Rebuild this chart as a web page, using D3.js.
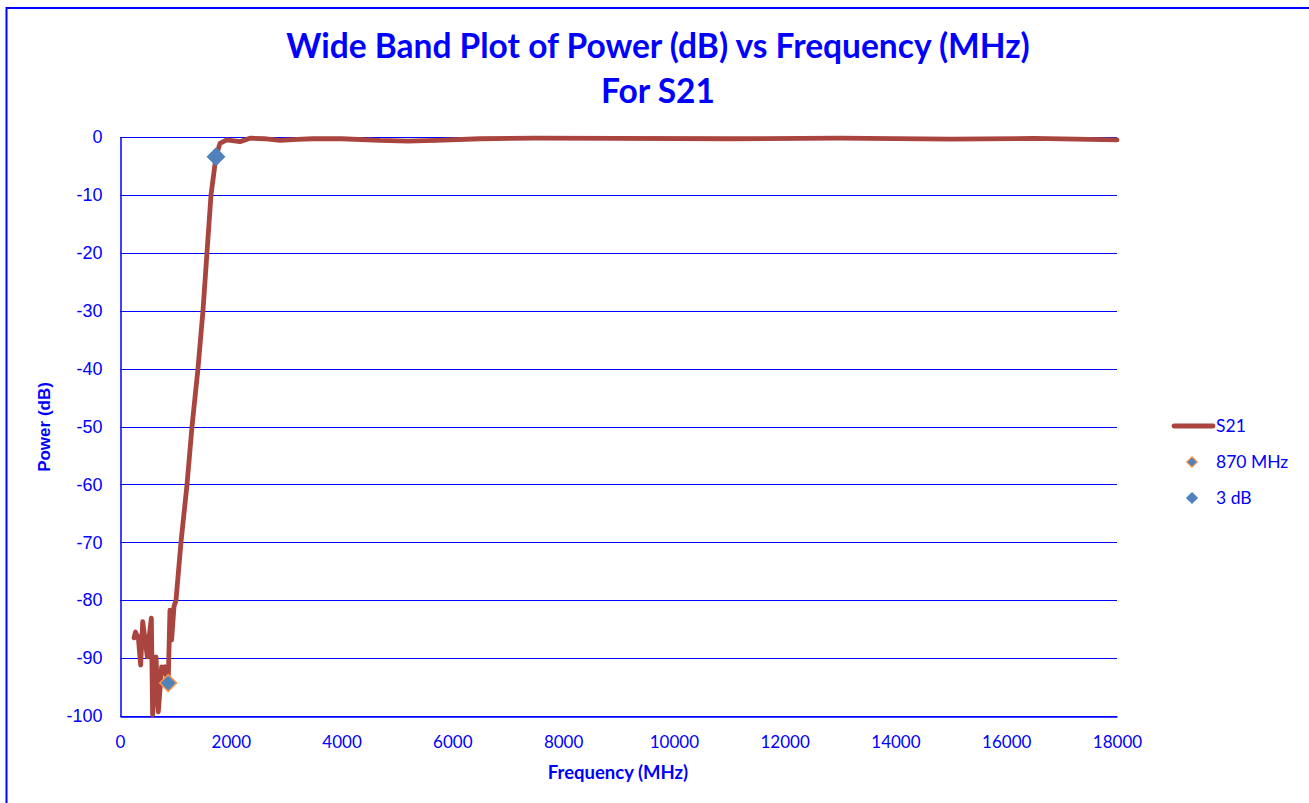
<!DOCTYPE html>
<html><head><meta charset="utf-8">
<script src="https://cdn.jsdelivr.net/npm/d3@7"></script>
<style>
html,body{margin:0;padding:0;background:#fff;}
svg{display:block;}
</style></head>
<body>
<svg id="chart" width="1309" height="803"></svg>
<script>
const titleLines = ["Wide Band Plot of Power (dB) vs Frequency (MHz)", "For S21"];
const xTicks = [0, 2000, 4000, 6000, 8000, 10000, 12000, 14000, 16000, 18000];
const yTicks = [0, -10, -20, -30, -40, -50, -60, -70, -80, -90, -100];
const freqMHz = [253, 280, 300, 330, 373, 410, 445, 494, 530, 566, 589, 620, 650, 692, 752, 782, 812, 842, 870, 902, 932, 975,
  1011, 1101, 1210, 1300, 1408, 1498, 1570, 1643, 1733, 1805, 1925, 2166, 2347, 2600, 2888, 3200, 3484, 4000, 4693, 5200, 5700,
  6500, 7500, 9000, 11000, 13000, 15000, 16500, 18000];
const s21dB = [-86.5, -85.5, -86.0, -86.3, -91.2, -83.7, -86.3, -89.8, -86.0, -83.1, -99.8, -95.0, -89.8, -99.3, -91.5, -92.6, -91.5, -93.2, -94.3, -81.7, -86.9, -81.1,
  -80, -70, -60, -50, -40, -30, -20, -10, -3.4, -1.1, -0.5, -0.8, -0.2, -0.3, -0.6, -0.4, -0.3, -0.3, -0.6, -0.7, -0.6,
  -0.3, -0.2, -0.25, -0.3, -0.2, -0.35, -0.25, -0.5];
const markerNames = ["870 MHz", "3 dB"];
const markerFreq = [870, 1733];
const markerdB = [-94.3, -3.4];
const seriesNames = ["S21"];

const BLUE = "#0000ff";
const LINE = "#a9443f";
const MFILL = "#4f81bd";
const MSTROKE = ["#f79646", "#4f81bd"];
const SANS = "Lato, 'Open Sans', sans-serif";
const ARIAL = "'Liberation Sans', Arial, sans-serif";

const svg = d3.select("#chart");
svg.append("rect").attr("x", 6.5).attr("y", 8).attr("width", 1320).attr("height", 820)
  .attr("fill", "none").attr("stroke", BLUE).attr("stroke-width", 2);

const x = d3.scaleLinear().domain([0, 18000]).range([120, 1117]);
const y = d3.scaleLinear().domain([-100, 0]).range([716, 137]);

svg.append("g").selectAll("line").data(yTicks).join("line")
  .attr("x1", x(0)).attr("x2", x(18000))
  .attr("y1", d => Math.round(y(d)) + 0.5).attr("y2", d => Math.round(y(d)) + 0.5)
  .attr("stroke", BLUE).attr("stroke-width", 1.2);

const yAxis = d3.axisLeft(y).tickValues(yTicks).tickSize(0).tickPadding(18).tickFormat(d => String(d));
const gy = svg.append("g").attr("transform", `translate(${x(0)+0.5},0)`).call(yAxis);
gy.select(".domain").attr("stroke", BLUE).attr("stroke-width", 1.5);
gy.selectAll("text").attr("fill", BLUE).style("font-family", ARIAL).style("font-size", "18px");

const xAxis = d3.axisBottom(x).tickValues(xTicks).tickSize(0).tickPadding(19).tickFormat(d => String(d));
const gx = svg.append("g").attr("transform", `translate(0,${y(-100)+0.5})`).call(xAxis);
gx.select(".domain").attr("stroke", BLUE).attr("stroke-width", 1.5);
gx.selectAll("text").attr("fill", BLUE).style("font-family", SANS).style("font-size", "17px");

const data = freqMHz.map((f, i) => ({f, v: s21dB[i]}));
const line = d3.line().x(d => x(d.f)).y(d => y(d.v)).curve(d3.curveLinear);
svg.append("path").datum(data).attr("d", line).attr("fill", "none")
  .attr("stroke", LINE).attr("stroke-width", 4.8).attr("stroke-linejoin", "round").attr("stroke-linecap", "round");

const diamond = d3.symbol().type(d3.symbolDiamond2).size(180);
markerFreq.forEach((f, i) => {
  svg.append("path").attr("d", diamond).attr("transform", `translate(${x(f)},${y(markerdB[i])})`)
    .attr("fill", MFILL).attr("stroke", MSTROKE[i]).attr("stroke-width", 1.5);
});

const t = svg.append("text").attr("text-anchor", "middle").attr("fill", BLUE)
  .style("font-family", SANS).style("font-weight", "bold").style("font-size", "33.5px");
t.append("tspan").attr("x", 658).attr("y", 58).text(titleLines[0]);
t.append("tspan").attr("x", 658).attr("y", 103).text(titleLines[1]);

svg.append("text").attr("x", 618).attr("y", 779).attr("text-anchor", "middle").attr("fill", BLUE)
  .style("font-family", SANS).style("font-weight", "bold").style("font-size", "18.5px")
  .text("Frequency (MHz)");
svg.append("text").attr("transform", "translate(50,427) rotate(-90)").attr("text-anchor", "middle").attr("fill", BLUE)
  .style("font-family", ARIAL).style("font-weight", "bold").style("font-size", "17px")
  .text("Power (dB)");

const lg = svg.append("g").style("font-family", SANS).style("font-size", "17.5px");
lg.append("line").attr("x1", 1174).attr("x2", 1213).attr("y1", 426).attr("y2", 426)
  .attr("stroke", LINE).attr("stroke-width", 4.8).attr("stroke-linecap", "round");
lg.append("text").attr("x", 1216).attr("y", 432).attr("fill", BLUE).text(seriesNames[0]);
const smallDiamond = d3.symbol().type(d3.symbolDiamond2).size(70);
markerNames.forEach((n, i) => {
  const yy = 462 + i * 36;
  lg.append("path").attr("d", smallDiamond).attr("transform", `translate(1192,${yy})`)
    .attr("fill", MFILL).attr("stroke", MSTROKE[i]).attr("stroke-width", 1.2);
  lg.append("text").attr("x", 1216).attr("y", yy + 6).attr("fill", BLUE).text(n);
});
</script>
</body></html>
